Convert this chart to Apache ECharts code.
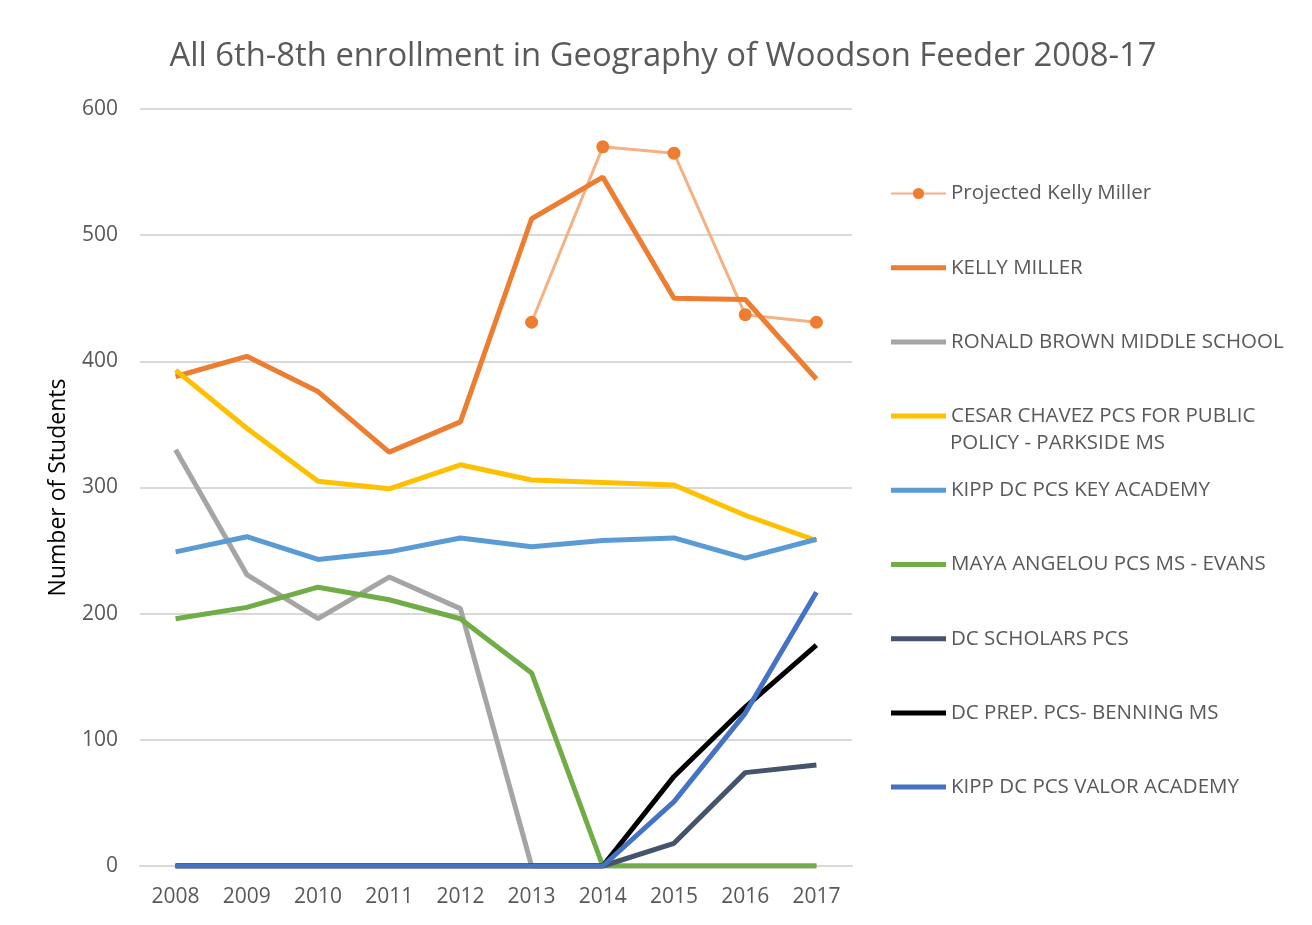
<!DOCTYPE html>
<html>
<head>
<meta charset="utf-8">
<title>Geography enrollment</title>
<script src="https://cdn.jsdelivr.net/npm/echarts@6/dist/echarts.min.js"></script>
<style>
  html, body { margin: 0; padding: 0; background: #fff; }
  #main { width: 1312px; height: 925px; }
</style>
</head>
<body>
<div id="main"></div>
<script>
// 年份
let years = ['2008', '2009', '2010', '2011', '2012', '2013', '2014', '2015', '2016', '2017']
let yTicks = [0, 100, 200, 300, 400, 500, 600]

// 各学校人数（从图上读出来的估计值）
let projectedKellyMiller = [null, null, null, null, null, 431, 570, 565, 437, 431]
let kellyMiller = [388, 404, 376, 328, 352, 513, 546, 450, 449, 386]
let ronaldBrown = [330, 231, 196, 229, 204, 0, 0, 0, 0, 0]
let cesarChavez = [393, 347, 305, 299, 318, 306, 304, 302, 278, 258]
let kippKey = [249, 261, 243, 249, 260, 253, 258, 260, 244, 259]
let mayaAngelou = [196, 205, 221, 211, 196, 153, 0, 0, 0, 0]
let dcScholars = [0, 0, 0, 0, 0, 0, 0, 18, 74, 80]
let dcPrep = [0, 0, 0, 0, 0, 0, 0, 71, 126, 175]
let kippValor = [0, 0, 0, 0, 0, 0, 0, 51, 121, 217]

let font = '"Open Sans", "Noto Sans", sans-serif'
let grey = '#595959'
// 图例里的粗线条
let barIcon = 'path://M0,0 L55,0 L55,5 L0,5 Z'

let chart = echarts.init(document.getElementById('main'))

function line (name, data, color) {
  return {
    name: name,
    type: 'line',
    data: data,
    symbol: 'none',
    color: color,
    itemStyle: { color: color },
    lineStyle: { color: color, width: 5 },
    emphasis: { disabled: true }
  }
}

let cesarName = 'CESAR CHAVEZ PCS FOR PUBLIC'
let legendNames = ['KELLY MILLER', 'RONALD BROWN MIDDLE SCHOOL', cesarName,
  'KIPP DC PCS KEY ACADEMY', 'MAYA ANGELOU PCS MS - EVANS', 'DC SCHOLARS PCS',
  'DC PREP. PCS- BENNING MS', 'KIPP DC PCS VALOR ACADEMY']

chart.setOption({
  animation: false,
  title: {
    text: 'All 6th-8th enrollment in Geography of Woodson Feeder 2008-17',
    left: 658,
    top: 35,
    textAlign: 'center',
    textStyle: { fontFamily: font, fontSize: 32.8, fontWeight: 'normal', color: grey }
  },
  legend: {
    orient: 'vertical',
    left: 890,
    top: 183,
    padding: 0,
    itemWidth: 55,
    itemHeight: 14,
    itemGap: 53.2,
    textStyle: { fontFamily: font, fontSize: 20.5, color: grey, lineHeight: 20 },
    data: [{ name: 'Projected Kelly Miller' }].concat(legendNames.map(function (n) {
      return { name: n, icon: barIcon }
    }))
  },
  // 图例第二行文字
  graphic: [{
    type: 'text',
    left: 950,
    top: 433,
    style: { text: 'POLICY - PARKSIDE MS', fontFamily: font, fontSize: 20.5, fill: grey }
  }],
  grid: { left: 140, right: 460, top: 109, bottom: 59 },
  xAxis: {
    type: 'category',
    data: years,
    boundaryGap: true,
    axisLine: { lineStyle: { color: '#D9D9D9', width: 2 } },
    axisTick: { show: false },
    axisLabel: { fontFamily: font, fontSize: 21, color: grey, margin: 21 }
  },
  yAxis: {
    type: 'value',
    min: yTicks[0],
    max: yTicks[yTicks.length - 1],
    interval: 100,
    name: 'Number of Students',
    nameLocation: 'middle',
    nameRotate: 90,
    nameGap: 70,
    nameTextStyle: { fontFamily: font, fontSize: 23, color: '#000' },
    axisLine: { show: false },
    axisTick: { show: false },
    axisLabel: { fontFamily: font, fontSize: 21, color: grey, margin: 22 },
    splitLine: { lineStyle: { color: '#D9D9D9', width: 2 } }
  },
  series: [
    {
      name: 'Projected Kelly Miller',
      type: 'line',
      data: projectedKellyMiller,
      symbol: 'circle',
      symbolSize: 13,
      showAllSymbol: true,
      color: '#ED7D31',
      itemStyle: { color: '#ED7D31' },
      lineStyle: { color: '#F4B183', width: 3 },
      emphasis: { disabled: true }
    },
    line('KELLY MILLER', kellyMiller, '#ED7D31'),
    line('RONALD BROWN MIDDLE SCHOOL', ronaldBrown, '#A5A5A5'),
    line(cesarName, cesarChavez, '#FFC000'),
    line('KIPP DC PCS KEY ACADEMY', kippKey, '#5B9BD5'),
    line('MAYA ANGELOU PCS MS - EVANS', mayaAngelou, '#70AD47'),
    line('DC SCHOLARS PCS', dcScholars, '#44546A'),
    line('DC PREP. PCS- BENNING MS', dcPrep, '#000000'),
    line('KIPP DC PCS VALOR ACADEMY', kippValor, '#4472C4')
  ]
})
</script>
</body>
</html>
